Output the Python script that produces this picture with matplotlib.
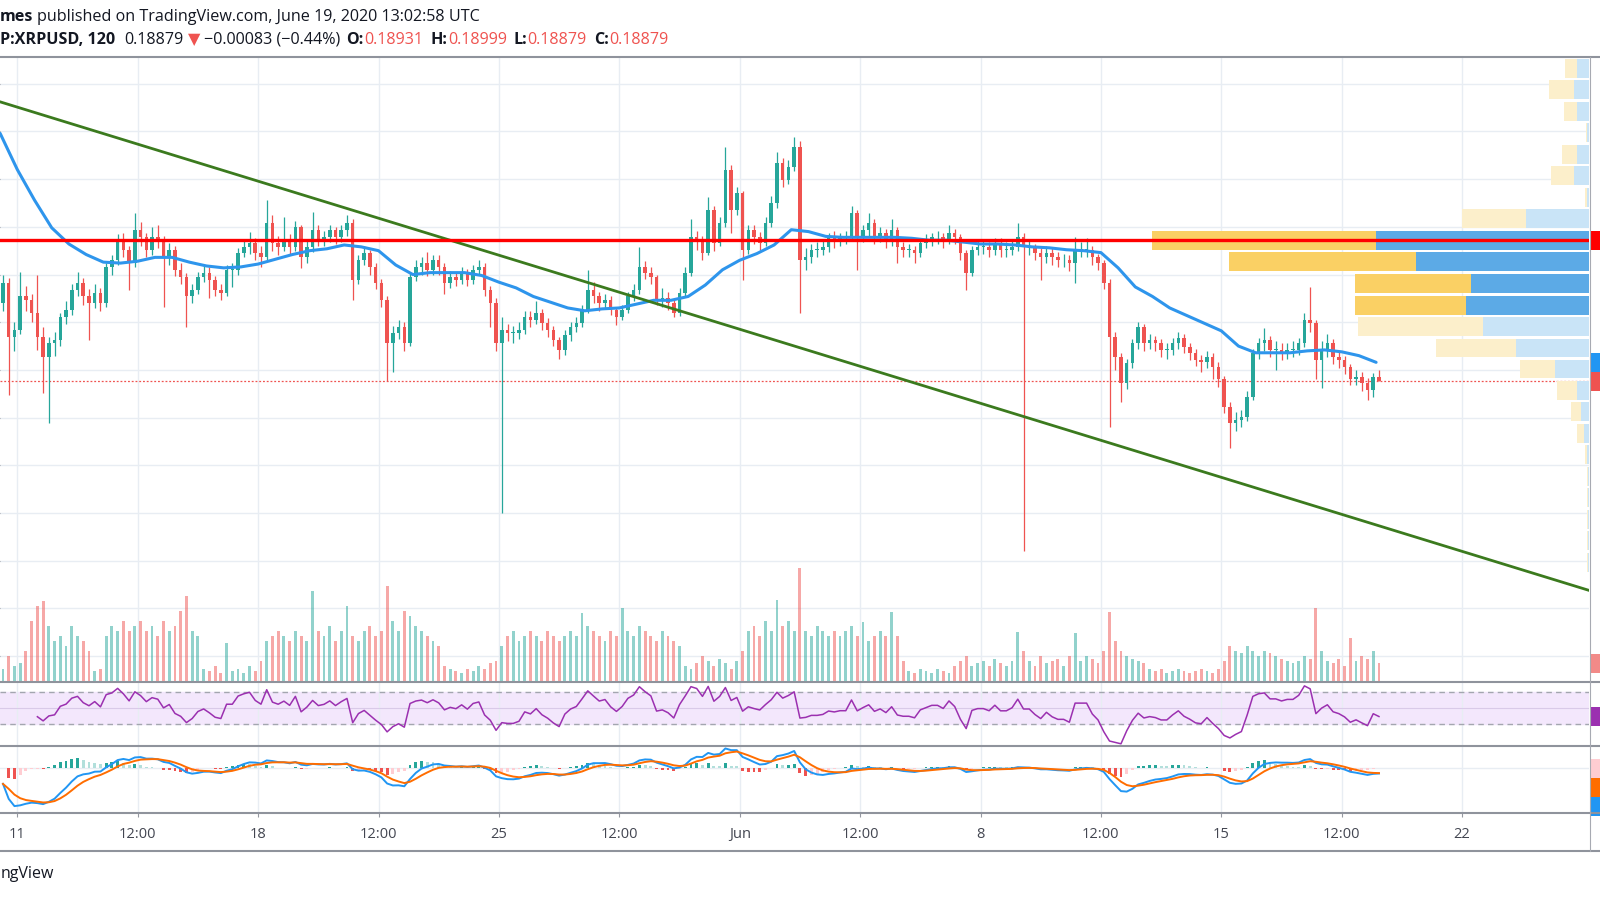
import numpy as np
import pandas as pd
import matplotlib
matplotlib.use('Agg')
import matplotlib.pyplot as plt
import matplotlib.dates as mdates
from matplotlib.lines import Line2D
from matplotlib.patches import Rectangle
from matplotlib.transforms import IdentityTransform

plt.rcParams['font.family'] = ['Open Sans', 'DejaVu Sans']

W, H = 1600, 900

# XRPUSD, merged to 4h bars (UTC), first bar 10 May 12:00
bar_start = '2020-05-10 12:00'
first_open = 0.1970
close = [
    0.1991, 0.1935, 0.1942, 0.1977, 0.1973, 0.1960, 0.1935, 0.1914, 0.1928, 0.1931,
    0.1956, 0.1963, 0.1984, 0.1991, 0.1977, 0.1970, 0.1981, 0.1970, 0.2008, 0.2015,
    0.2036, 0.2026, 0.2012, 0.2047, 0.2039, 0.2026, 0.2039, 0.2036, 0.2018, 0.2026,
    0.2005, 0.1997, 0.1977, 0.1984, 0.1997, 0.2002, 0.1994, 0.1984, 0.1981, 0.2005,
    0.2005, 0.2023, 0.2029, 0.2033, 0.2023, 0.2018, 0.2054, 0.2033, 0.2029, 0.2036,
    0.2029, 0.2050, 0.2018, 0.2029, 0.2047, 0.2036, 0.2039, 0.2047, 0.2039, 0.2047,
    0.2054, 0.1994, 0.2015, 0.2023, 0.2008, 0.1991, 0.1973, 0.1928, 0.1939, 0.1945,
    0.1928, 0.1997, 0.2008, 0.2012, 0.2005, 0.2015, 0.2008, 0.1991, 0.1997, 0.1994,
    0.2002, 0.1994, 0.2005, 0.2008, 0.1984, 0.1970, 0.1928, 0.1942, 0.1939, 0.1939,
    0.1942, 0.1956, 0.1952, 0.1960, 0.1949, 0.1942, 0.1931, 0.1921, 0.1937, 0.1945,
    0.1949, 0.1963, 0.1984, 0.1977, 0.1970, 0.1973, 0.1963, 0.1956, 0.1963, 0.1977,
    0.1984, 0.2008, 0.2002, 0.1997, 0.1973, 0.1975, 0.1970, 0.1960, 0.1981, 0.2002,
    0.2039, 0.2036, 0.2023, 0.2068, 0.2033, 0.2054, 0.2110, 0.2068, 0.2085, 0.2026,
    0.2047, 0.2039, 0.2033, 0.2054, 0.2075, 0.2117, 0.2099, 0.2113, 0.2134, 0.2015,
    0.2018, 0.2026, 0.2026, 0.2029, 0.2039, 0.2036, 0.2039, 0.2039, 0.2065, 0.2039,
    0.2047, 0.2054, 0.2039, 0.2044, 0.2036, 0.2047, 0.2029, 0.2026, 0.2026, 0.2023,
    0.2033, 0.2036, 0.2039, 0.2039, 0.2036, 0.2044, 0.2039, 0.2023, 0.2002, 0.2026,
    0.2029, 0.2029, 0.2026, 0.2033, 0.2026, 0.2026, 0.2029, 0.2039, 0.2029, 0.2029,
    0.2023, 0.2018, 0.2023, 0.2018, 0.2015, 0.2015, 0.2012, 0.2026, 0.2026, 0.2026,
    0.2018, 0.2012, 0.1991, 0.1935, 0.1914, 0.1886, 0.1907, 0.1928, 0.1945, 0.1928,
    0.1931, 0.1928, 0.1921, 0.1921, 0.1928, 0.1934, 0.1924, 0.1918, 0.1910, 0.1908,
    0.1914, 0.1903, 0.1890, 0.1861, 0.1844, 0.1848, 0.1851, 0.1872, 0.1918, 0.1928,
    0.1931, 0.1921, 0.1921, 0.1918, 0.1921, 0.1921, 0.1928, 0.1952, 0.1949, 0.1910,
    0.1921, 0.1928, 0.1914, 0.1910, 0.1903, 0.1890, 0.1893, 0.1886, 0.1879, 0.18931,
    0.18879]
high = [
    0.2000, 0.1996, 0.1950, 0.2003, 0.1988, 0.1980, 0.2000, 0.1945, 0.1935, 0.1940,
    0.1960, 0.1972, 0.1990, 0.2003, 0.1996, 0.1985, 0.1990, 0.1986, 0.2012, 0.2020,
    0.2042, 0.2044, 0.2030, 0.2065, 0.2055, 0.2044, 0.2050, 0.2052, 0.2040, 0.2033,
    0.2030, 0.2012, 0.2002, 0.1990, 0.2003, 0.2010, 0.2008, 0.1998, 0.1990, 0.2010,
    0.2012, 0.2028, 0.2036, 0.2045, 0.2038, 0.2030, 0.2078, 0.2062, 0.2040, 0.2060,
    0.2042, 0.2056, 0.2052, 0.2036, 0.2066, 0.2052, 0.2046, 0.2052, 0.2050, 0.2052,
    0.2062, 0.2058, 0.2020, 0.2030, 0.2026, 0.2012, 0.1995, 0.1978, 0.1946, 0.1952,
    0.1950, 0.2002, 0.2015, 0.2018, 0.2024, 0.2020, 0.2020, 0.2012, 0.2004, 0.2003,
    0.2008, 0.2006, 0.2010, 0.2015, 0.2012, 0.1988, 0.1975, 0.1955, 0.1948, 0.1946,
    0.1950, 0.1962, 0.1962, 0.1972, 0.1964, 0.1954, 0.1946, 0.1935, 0.1942, 0.1950,
    0.1955, 0.1968, 0.2005, 0.1992, 0.1982, 0.1980, 0.1978, 0.1966, 0.1968, 0.1982,
    0.1990, 0.2029, 0.2014, 0.2008, 0.2000, 0.1986, 0.1982, 0.1974, 0.1986, 0.2008,
    0.2058, 0.2046, 0.2040, 0.2081, 0.2072, 0.2060, 0.2134, 0.2115, 0.2092, 0.2088,
    0.2052, 0.2052, 0.2045, 0.2060, 0.2082, 0.2128, 0.2122, 0.2120, 0.2144, 0.2140,
    0.2028, 0.2032, 0.2034, 0.2036, 0.2044, 0.2046, 0.2044, 0.2046, 0.2072, 0.2068,
    0.2052, 0.2065, 0.2058, 0.2050, 0.2048, 0.2058, 0.2050, 0.2034, 0.2032, 0.2030,
    0.2038, 0.2042, 0.2044, 0.2046, 0.2044, 0.2052, 0.2048, 0.2042, 0.2026, 0.2030,
    0.2036, 0.2036, 0.2034, 0.2038, 0.2038, 0.2034, 0.2036, 0.2054, 0.2044, 0.2036,
    0.2032, 0.2028, 0.2030, 0.2028, 0.2024, 0.2022, 0.2020, 0.2039, 0.2034, 0.2038,
    0.2030, 0.2022, 0.2015, 0.1995, 0.1940, 0.1918, 0.1912, 0.1932, 0.1950, 0.1948,
    0.1938, 0.1936, 0.1932, 0.1928, 0.1934, 0.1940, 0.1938, 0.1928, 0.1922, 0.1916,
    0.1920, 0.1918, 0.1908, 0.1894, 0.1866, 0.1856, 0.1858, 0.1878, 0.1922, 0.1934,
    0.1944, 0.1936, 0.1930, 0.1928, 0.1928, 0.1930, 0.1934, 0.1960, 0.1987, 0.1952,
    0.1930, 0.1938, 0.1932, 0.1920, 0.1915, 0.1906, 0.1900, 0.1898, 0.1892, 0.1897,
    0.18999]
low = [
    0.1962, 0.1874, 0.1920, 0.1938, 0.1962, 0.1950, 0.1921, 0.1876, 0.1844, 0.1915,
    0.1925, 0.1948, 0.1958, 0.1978, 0.1968, 0.1931, 0.1965, 0.1962, 0.1966, 0.2000,
    0.2010, 0.2018, 0.1984, 0.2008, 0.2030, 0.2018, 0.2020, 0.2028, 0.1966, 0.2010,
    0.1998, 0.1990, 0.1945, 0.1970, 0.1980, 0.1992, 0.1975, 0.1977, 0.1973, 0.1978,
    0.1987, 0.2000, 0.2018, 0.2022, 0.2015, 0.2008, 0.2015, 0.2025, 0.2020, 0.2025,
    0.2020, 0.2025, 0.2007, 0.2012, 0.2024, 0.2030, 0.2030, 0.2034, 0.2032, 0.2034,
    0.2040, 0.1973, 0.1990, 0.2010, 0.2000, 0.1985, 0.1966, 0.1888, 0.1898, 0.1932,
    0.1920, 0.1925, 0.1993, 0.2000, 0.1998, 0.2000, 0.2000, 0.1980, 0.1986, 0.1988,
    0.1990, 0.1988, 0.1990, 0.2000, 0.1977, 0.1945, 0.1920, 0.1750, 0.1930, 0.1928,
    0.1932, 0.1938, 0.1945, 0.1948, 0.1942, 0.1935, 0.1925, 0.1912, 0.1916, 0.1930,
    0.1940, 0.1945, 0.1960, 0.1970, 0.1962, 0.1965, 0.1958, 0.1947, 0.1952, 0.1960,
    0.1972, 0.1980, 0.1995, 0.1990, 0.1968, 0.1966, 0.1963, 0.1955, 0.1957, 0.1978,
    0.1998, 0.2026, 0.2015, 0.2020, 0.2025, 0.2030, 0.2050, 0.2044, 0.2062, 0.1994,
    0.2022, 0.2032, 0.2026, 0.2030, 0.2050, 0.2070, 0.2092, 0.2095, 0.2108, 0.1960,
    0.2005, 0.2012, 0.2018, 0.2020, 0.2024, 0.2028, 0.2030, 0.2032, 0.2036, 0.2005,
    0.2034, 0.2040, 0.2032, 0.2034, 0.2028, 0.2030, 0.2012, 0.2018, 0.2018, 0.2012,
    0.2018, 0.2028, 0.2030, 0.2032, 0.2028, 0.2032, 0.2032, 0.2015, 0.1984, 0.1998,
    0.2020, 0.2022, 0.2018, 0.2020, 0.2018, 0.2018, 0.2020, 0.2025, 0.1710, 0.2020,
    0.2015, 0.1994, 0.2012, 0.2010, 0.2008, 0.2008, 0.2004, 0.1991, 0.2018, 0.2018,
    0.2010, 0.2005, 0.1985, 0.1840, 0.1900, 0.1866, 0.1880, 0.1902, 0.1922, 0.1920,
    0.1922, 0.1920, 0.1914, 0.1912, 0.1916, 0.1922, 0.1918, 0.1910, 0.1904, 0.1898,
    0.1902, 0.1890, 0.1882, 0.1855, 0.1818, 0.1836, 0.1840, 0.1846, 0.1868, 0.1912,
    0.1920, 0.1914, 0.1900, 0.1910, 0.1912, 0.1914, 0.1916, 0.1924, 0.1940, 0.1890,
    0.1881, 0.1914, 0.1906, 0.1902, 0.1896, 0.1884, 0.1884, 0.1878, 0.1868, 0.1872,
    0.18879]
# volume per bar (arbitrary units)
volume = [
    12, 25, 15, 18, 30, 60, 75, 80, 55, 40,
    45, 35, 55, 45, 40, 30, 10, 12, 45, 55,
    50, 60, 50, 55, 60, 50, 55, 45, 60, 50,
    55, 70, 85, 50, 45, 12, 10, 15, 8, 38,
    10, 12, 8, 15, 10, 20, 40, 45, 50, 45,
    40, 50, 45, 40, 90, 50, 45, 55, 40, 50,
    75, 45, 40, 50, 55, 45, 50, 95, 60, 50,
    70, 65, 55, 50, 45, 40, 35, 15, 12, 10,
    8, 12, 10, 15, 12, 18, 20, 35, 45, 50,
    40, 45, 50, 45, 40, 50, 45, 40, 45, 50,
    45, 68, 55, 50, 45, 40, 50, 45, 73, 50,
    45, 55, 50, 45, 40, 50, 45, 40, 35, 15,
    12, 18, 25, 20, 15, 22, 18, 12, 20, 30,
    50, 55, 45, 60, 50, 81, 55, 60, 50, 113,
    50, 45, 55, 50, 45, 50, 45, 50, 55, 45,
    59, 40, 45, 50, 45, 69, 45, 20, 10, 8,
    12, 10, 8, 12, 10, 8, 15, 20, 25, 15,
    18, 20, 15, 22, 18, 15, 20, 49, 30, 20,
    15, 25, 18, 20, 22, 15, 25, 48, 20, 25,
    22, 18, 30, 69, 40, 30, 25, 22, 20, 18,
    12, 10, 12, 8, 10, 12, 10, 8, 10, 12,
    10, 8, 12, 20, 35, 30, 28, 35, 30, 25,
    30, 28, 25, 22, 20, 18, 20, 25, 22, 73,
    30, 20, 18, 22, 15, 43, 20, 25, 22, 30,
    18]

# blue moving average, read every 12h
ma_start = '2020-05-10 12:00'
ma_values = [
    0.2148, 0.2110, 0.2078, 0.2049, 0.2032, 0.2021, 0.2013, 0.2012, 0.2014, 0.2018,
    0.2018, 0.2013, 0.2009, 0.2007, 0.2008, 0.2011, 0.2016, 0.2021, 0.2025, 0.2027,
    0.2031, 0.2029, 0.2025, 0.2010, 0.2000, 0.2002, 0.2002, 0.2002, 0.1999, 0.1992,
    0.1986, 0.1977, 0.1971, 0.1965, 0.1962, 0.1964, 0.1965, 0.1969, 0.1973, 0.1973,
    0.1977, 0.1989, 0.2005, 0.2015, 0.2022, 0.2031, 0.2047, 0.2045, 0.2040, 0.2039,
    0.2039, 0.2039, 0.2039, 0.2038, 0.2036, 0.2036, 0.2034, 0.2032, 0.2032, 0.2031,
    0.2029, 0.2028, 0.2026, 0.2025, 0.2023, 0.2007, 0.1987, 0.1977, 0.1965, 0.1957,
    0.1949, 0.1941, 0.1925, 0.1918, 0.1918, 0.1918, 0.1920, 0.1921, 0.1919, 0.1915,
    0.1908]

# drawings
resistance = 0.2036
trend_times = ['2020-05-10 12:00', '2020-06-25 16:30']
trend_prices = [0.2181, 0.1669]

# visible range volume profile (24 rows, top to bottom)
vp_price = [0.2216, 0.2194, 0.2171, 0.2149, 0.2126, 0.2104, 0.2081, 0.2059,
            0.2036, 0.2014, 0.1991, 0.1968, 0.1946, 0.1923, 0.1901, 0.1878,
            0.1856, 0.1833, 0.1811, 0.1788, 0.1766, 0.1743, 0.1721, 0.1698]
vp_up = [12, 15, 12, 2, 12, 15, 2, 63, 213, 173, 118, 123,
         106, 73, 34, 12, 8, 5, 2, 1, 1, 1, 1, 1]
vp_down = [12, 25, 13, 1, 15, 23, 2, 64, 223, 186, 115, 110,
           124, 80, 35, 20, 10, 7, 2, 1, 1, 1, 1, 1]
value_area = (0.1957, 0.2047)

tick_times = ['2020-05-11 00:00', '2020-05-14 12:00', '2020-05-18 00:00', '2020-05-21 12:00',
              '2020-05-25 00:00', '2020-05-28 12:00', '2020-06-01 00:00', '2020-06-04 12:00',
              '2020-06-08 00:00', '2020-06-11 12:00', '2020-06-15 00:00', '2020-06-18 12:00',
              '2020-06-22 00:00']
tick_labels = ['11', '12:00', '18', '12:00', '25', '12:00', 'Jun', '12:00',
               '8', '12:00', '15', '12:00', '22']

UP, DOWN = '#26A69A', '#EF5350'
GRID = '#E8EDF3'
SEP = '#8F939C'
TXT = '#131722'

# ---- derived series ----
c = np.array(close)
h = np.array(high)
l = np.array(low)
o = np.r_[first_open, c[:-1]]
n = len(c)
bars = pd.date_range(bar_start, periods=n, freq='4h')
x = mdates.date2num(bars + pd.Timedelta(hours=2))
bw = 4 / 24
rising = c >= o

# RSI, Wilder, 7 bars of 4h (= 14 bars of 2h)
period = 7
delta = np.diff(np.r_[first_open, c])
gain = np.clip(delta, 0, None)
loss = np.clip(-delta, 0, None)
ag = np.full(n, np.nan)
al = np.full(n, np.nan)
ag[period - 1] = gain[:period].mean()
al[period - 1] = loss[:period].mean()
for i in range(period, n):
    ag[i] = (ag[i - 1] * (period - 1) + gain[i]) / period
    al[i] = (al[i - 1] * (period - 1) + loss[i]) / period
rsi = 100 - 100 / (1 + ag / al)


# MACD 12/26/9 on 2h ~ 6/13/5 on 4h; emas start from the level the MA shows at the left edge
def ema(values, span, seed):
    a = 2 / (span + 1)
    out, e = [], seed
    for v in values:
        e = e + a * (v - e)
        out.append(e)
    return np.array(out)


macd = ema(c, 6, ma_values[0]) - ema(c, 13, ma_values[0])
signal = ema(macd, 5, macd[0])
hist = macd - signal

# ---- figure ----
fig = plt.figure(figsize=(W / 100, H / 100), dpi=100)
fig.patch.set_facecolor('white')


def rect(top, bottom):
    return [0, 1 - bottom / H, 1589 / W, (bottom - top) / H]


ax = fig.add_axes(rect(57, 681))
ax_rsi = fig.add_axes(rect(683, 745), sharex=ax)
ax_macd = fig.add_axes(rect(747, 813), sharex=ax)

ax.set_xlim(mdates.date2num(pd.Timestamp('2020-05-10 11:55')),
            mdates.date2num(pd.Timestamp('2020-06-25 16:32')))
ax.set_ylim(0.1574, 0.2228)

tick_x = mdates.date2num(pd.to_datetime(tick_times))
for a in (ax, ax_rsi, ax_macd):
    for s in a.spines.values():
        s.set_visible(False)
    a.set_axisbelow(True)
ax.set_xticks(tick_x)
ax_macd.set_xticklabels(tick_labels)
for a in (ax, ax_rsi, ax_macd):
    a.grid(axis='x', color=GRID, lw=1)
ax.set_yticks(np.arange(0.16, 0.2201, 0.005))
ax.grid(axis='y', color=GRID, lw=1)
ax.tick_params(axis='x', bottom=False, labelbottom=False)
ax.tick_params(axis='y', left=False, labelleft=False, right=True, labelright=False,
               length=4, color='#9598A1')
ax_rsi.tick_params(bottom=False, labelbottom=False, left=False, labelleft=False)
ax_macd.tick_params(axis='x', length=3, color='#9598A1', labelsize=10.5,
                    labelcolor='#434651', pad=7)
ax_macd.tick_params(axis='y', left=False, labelleft=False)

# candles
col = np.where(rising, UP, DOWN)
ax.vlines(x, l, h, colors=col, lw=0.9, zorder=3)
body = np.maximum(np.abs(c - o), 0.00006)
ax.bar(x, body, bottom=np.minimum(o, c), width=bw * 0.62, color=col, lw=0, zorder=4)

# moving average, trend line, last price
ma_t = pd.date_range(ma_start, periods=len(ma_values), freq='12h')
ax.plot(mdates.date2num(ma_t), ma_values, color='#2E95EC', lw=2.2, zorder=5,
        solid_capstyle='round')
ax.plot(mdates.date2num(pd.to_datetime(trend_times)), trend_prices, color='#3B7A1E',
        lw=2.0, zorder=5)
ax.axhline(c[-1], color=DOWN, lw=0.9, ls=(0, (1.5, 1.5)), zorder=2)

# volume overlay
ax_vol = ax.twinx()
ax_vol.set_zorder(2)
ax_vol.bar(x, volume, width=bw * 0.5, color=col, alpha=0.5, lw=0)
ax_vol.set_ylim(0, max(volume) * 624 / 113)
ax_vol.axis('off')

# volume profile
ax_vp = fig.add_axes(ax.get_position(), zorder=3)
ax_vp.patch.set_visible(False)
vp_p = np.array(vp_price)
in_va = (vp_p >= value_area[0]) & (vp_p <= value_area[1])
step = abs(vp_price[0] - vp_price[1])
ax_vp.barh(vp_p, vp_up, height=step * 0.9, color=np.where(in_va, '#5CAAE6', '#C9E4F7'), lw=0)
ax_vp.barh(vp_p, vp_down, left=vp_up, height=step * 0.9,
           color=np.where(in_va, '#FAD064', '#FCEFCB'), lw=0)
vp_total = np.array(vp_up) + np.array(vp_down)
ax_vp.set_xlim(vp_total.max() / 0.275, 0)
ax_vp.set_ylim(ax.get_ylim())
ax_vp.axis('off')
ax_vp.axhline(resistance, color='#FF0000', lw=2.4)

# RSI pane
ax_rsi.set_ylim(4, 81)
ax_rsi.axhspan(30, 70, color='#F3E7FC', zorder=0)
for lvl in (30, 70):
    ax_rsi.axhline(lvl, color='#A3A6AF', lw=1, ls=(0, (4, 3)), zorder=1)
ax_rsi.axhline(50, color='#D9CAE8', lw=0.8, zorder=1)
ax_rsi.plot(x, rsi, color='#9B30B0', lw=1.1, zorder=3)

# MACD pane
hist_rising = np.r_[True, np.diff(hist) >= 0]
hcol = np.where(hist >= 0, np.where(hist_rising, '#26A69A', '#B2DFDB'),
                np.where(hist_rising, '#FFCDD2', '#EF5350'))
ax_macd.bar(x, hist, width=bw * 0.5, color=hcol, lw=0, zorder=2)
ax_macd.axhline(0, color=GRID, lw=1, zorder=1)
ax_macd.plot(x, macd, color='#2196F3', lw=1.4, zorder=3)
ax_macd.plot(x, signal, color='#FF6D00', lw=1.4, zorder=4)
mn = min(macd.min(), signal.min())
ax_macd.set_ylim(mn * 46 / 39, -mn * 21 / 39)

# pane separators and price scale edge
def sep_h(y, lw=1.5):
    fig.add_artist(Line2D([0, 1], [1 - y / H, 1 - y / H], transform=fig.transFigure,
                          color=SEP, lw=lw))


for yy in (57, 682, 746, 813, 851):
    sep_h(yy)
fig.add_artist(Line2D([1589.5 / W, 1589.5 / W], [1 - 57 / H, 1 - 851 / H],
                      transform=fig.transFigure, color='#A7AAB2', lw=0.8))


# cut-off price scale labels
def stub(ypix, color):
    fig.add_artist(Rectangle((1591, ypix - 9.5), 10, 19, transform=IdentityTransform(),
                             color=color, lw=0))


def ypx(a, v):
    return a.transData.transform((0, v))[1]


stub(ypx(ax, resistance), '#FF0000')
stub(ypx(ax, ma_values[-1]), '#2196F3')
stub(min(ypx(ax, c[-1]), ypx(ax, ma_values[-1]) - 19), DOWN)
stub(ypx(ax_vol, volume[-1]), '#F28A88')
stub(ypx(ax_rsi, rsi[-1]), '#9B30B0')
prev = None
for val, colr in ((hist[-1], '#FFCDD2'), (signal[-1], '#FF6D00'), (macd[-1], '#2196F3')):
    yp = ypx(ax_macd, val)
    if prev is not None and yp > prev - 19:
        yp = prev - 19
    stub(yp, colr)
    prev = yp

# header
renderer = fig.canvas.get_renderer()


def header_line(y, pieces):
    xp = 0
    for s, colr, weight, gap in pieces:
        t = fig.text(xp, H - y, s, color=colr, fontweight=weight, fontsize=11.6,
                     va='center', ha='left', transform=IdentityTransform())
        xp = t.get_window_extent(renderer).x1 + gap


header_line(17, [('mes', TXT, 'bold', 4),
                 ('published on TradingView.com, June 19, 2020 13:02:58 UTC', TXT, 'normal', 0)])
header_line(40, [('P:XRPUSD, 120', TXT, 'bold', 9),
                 ('0.18879', TXT, 'normal', 5),
                 ('\u25bc', DOWN, 'normal', 3),
                 ('\u22120.00083 (\u22120.44%)', TXT, 'normal', 6),
                 ('O:', TXT, 'bold', 1), ('0.18931', DOWN, 'normal', 7),
                 ('H:', TXT, 'bold', 1), ('0.18999', DOWN, 'normal', 6),
                 ('L:', TXT, 'bold', 1), ('0.18879', DOWN, 'normal', 7),
                 ('C:', TXT, 'bold', 1), ('0.18879', DOWN, 'normal', 0)])

fig.text(1, H - 874, 'ngView', ha='left', va='center', fontsize=11.5, color=TXT,
         transform=IdentityTransform())

fig.savefig('out.png', dpi=100)
